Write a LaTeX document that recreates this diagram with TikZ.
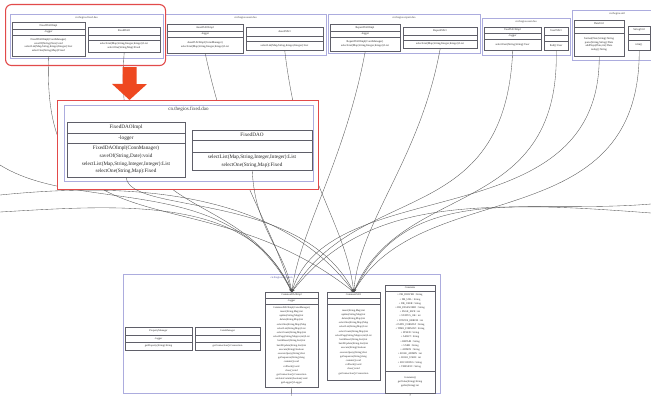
\documentclass[tikz,border=0pt]{standalone}
\usepackage{fontspec}
\setmainfont{Liberation Serif}
\usetikzlibrary{arrows.meta}
\definecolor{pkgcol}{RGB}{172,172,222}
\definecolor{clscol}{RGB}{95,95,105}
\definecolor{hlred}{RGB}{226,74,74}
\definecolor{arrred}{RGB}{238,72,32}
\definecolor{edgecol}{RGB}{85,85,85}
\definecolor{titlecol}{RGB}{90,90,165}
\tikzset{
  pkgbox/.style={draw=pkgcol, fill=white, line width=0.6pt, inner sep=0pt, anchor=north west},
  clsbox/.style={draw=clscol, fill=white, line width=0.45pt, inner sep=0pt, anchor=north west},
  clsline/.style={draw=clscol, line width=0.45pt},
  ctext/.style={inner sep=0pt, align=center, text=black!85, cfont},
  ptext/.style={inner sep=0pt, align=center, text=black!75, pfont},
  cfont/.style={font=\fontsize{2.8}{3.6}\selectfont},
  pfont/.style={font=\fontsize{2.8}{3.6}\selectfont},
  dep/.style={draw=edgecol, line width=0.35pt, -{Stealth[length=3.2pt,width=2.4pt]}},
  hlbox/.style={draw=hlred, line width=1.1pt, inner sep=0pt, anchor=north west}
}
\newcommand{\upkg}[6]{%
  \node[pkgbox, minimum width={(#3-#2)*1pt}, minimum height={(#5-#4)*1pt}] (#1) at (#2,#4) {};
  \node[ptext] (#1-t) at ({(#2+#3)/2},#4+4) {#6};}
\newcommand{\ucls}[8]{\def\cid{#1}\def\cxa{#2}\def\cxb{#3}\def\cya{#4}\def\cyb{#5}\def\cyc{#6}\def\cyd{#7}\def\cname{#8}\uclsrest}
\newcommand{\uclsrest}[2]{%
  \node[clsbox, minimum width={(\cxb-\cxa)*1pt}, minimum height={(\cyd-\cya)*1pt}] (\cid) at (\cxa,\cya) {};
  \draw[clsline] (\cxa,\cyb) -- (\cxb,\cyb) (\cxa,\cyc) -- (\cxb,\cyc);
  \node[ctext] (\cid-n) at ({(\cxa+\cxb)/2},{(\cya+\cyb)/2}) {\cname};
  \node[ctext] (\cid-a) at ({(\cxa+\cxb)/2},{(\cyb+\cyc)/2}) {#1};
  \node[ctext] (\cid-m) at ({(\cxa+\cxb)/2},{(\cyc+\cyd)/2}) {#2};}
\begin{document}
\begin{tikzpicture}[x=1pt,y=-1pt]
\useasboundingbox[fill=white] (0,0) rectangle (651,396);

% ---------- bottom package ----------
\upkg{bp}{123}{440}{274}{393}{\textcolor{titlecol}{cn.thegios.common}}
\begin{scope}[cfont/.style={font=\fontsize{2.6}{4.2}\selectfont}]
\ucls{c1}{265}{318}{292}{298}{304}{387}{CommonDAOImpl}{-logger}{CommonDAOImpl(ConnManager)\\insert(String,Map):int\\update(String,Map):int\\delete(String,Map):int\\selectOne(String,Map):Map\\selectList(String,Map):List\\selectCount(String,Map):int\\selectPage(String,Map,int,int):List\\batchInsert(String,List):int\\batchUpdate(String,List):int\\execute(String):boolean\\executeQuery(String):List\\getSequence(String):long\\commit():void\\rollback():void\\close():void\\getConnection():Connection\\setAutoCommit(boolean):void\\getLogger():Logger}
\ucls{c2}{327}{380}{292}{298}{304}{380}{CommonDAO}{}{insert(String,Map):int\\update(String,Map):int\\delete(String,Map):int\\selectOne(String,Map):Map\\selectList(String,Map):List\\selectCount(String,Map):int\\selectPage(String,Map,int,int):List\\batchInsert(String,List):int\\batchUpdate(String,List):int\\execute(String):boolean\\executeQuery(String):List\\getSequence(String):long\\commit():void\\rollback():void\\close():void\\getConnection():Connection}
\ucls{c3}{385}{435}{285}{291}{371}{393}{Constants}{+ DB\_DRIVER : String\\+ DB\_URL : String\\+ DB\_USER : String\\+ DB\_PASSWORD : String\\+ PAGE\_SIZE : int\\+ STATUS\_OK : int\\+ STATUS\_ERROR : int\\+ DATE\_FORMAT : String\\+ TIME\_FORMAT : String\\+ FIXED : String\\+ ASSET : String\\+ REPAIR : String\\+ USER : String\\+ ADMIN : String\\+ ROLE\_ADMIN : int\\+ ROLE\_USER : int\\+ ENCODING : String\\+ VERSION : String}{Constants()\\getValue(String):String\\getInt(String):int}
\ucls{q1}{125}{192}{327}{335}{342}{350}{PropertyManager}{-logger}{getProperty(String):String}
\ucls{q2}{195}{260}{327}{335}{342}{350}{ConnManager}{}{getConnection():Connection}
\end{scope}

% ---------- top packages ----------
\upkg{p1}{10}{163}{14}{58}{cn.thegios.fixed.dao}
\ucls{p1A}{12}{85}{22}{29}{35}{56}{FixedDAOImpl}{-logger}{FixedDAOImpl(ConnManager)\\saveOf(String,Date):void\\selectList(Map,String,Integer,Integer):List\\selectOne(String,Map):Fixed}
\ucls{p1B}{88}{160}{27}{35}{40}{52}{FixedDAO}{}{selectList(Map,String,Integer,Integer):List\\selectOne(String,Map):Fixed}

\upkg{p2}{165}{326}{14}{55}{cn.thegios.asset.dao}
\ucls{p2A}{167}{243}{24}{31}{37}{53}{AssetDAOImpl}{-logger}{AssetDAOImpl(ConnManager)\\selectList(Map,String,Integer,Integer):List}
\ucls{p2B}{246}{323}{27}{36}{41}{50}{AssetDAO}{}{selectList(Map,String,Integer,Integer):List}

\upkg{p3}{328}{480}{14}{53}{cn.thegios.repair.dao}
\ucls{p3A}{330}{400}{24}{31}{37}{51}{RepairDAOImpl}{-logger}{RepairDAOImpl(ConnManager)\\selectList(Map,String,Integer,Integer):List}
\ucls{p3B}{403}{477}{27}{35}{40}{48}{RepairDAO}{}{selectList(Map,String,Integer,Integer):List}

\upkg{p4}{482}{570}{18}{55}{cn.thegios.user.dao}
\ucls{p4A}{484}{541}{27}{33}{39}{50}{UserDAOImpl}{-logger}{selectUser(String,String):User}
\ucls{p4B}{544}{568}{27}{35}{41}{50}{UserDAO}{}{find():User}

\upkg{p5}{572}{662}{10}{60}{cn.thegios.util}
\ucls{p5A}{574}{624}{20}{27}{33}{56}{DateUtil}{}{format(Date,String):String\\parse(String,String):Date\\addDays(Date,int):Date\\today():String}
\ucls{p5B}{628}{650}{26}{34}{40}{50}{StringUtil}{}{trim()}

% ---------- free ends ----------
\coordinate (L1) at (0,165);
\coordinate (L2) at (0,195);
\coordinate (L3) at (0,212);
\coordinate (R1) at (651,204);
\coordinate (R2) at (651,213);
\coordinate (B1) at (291.5,396);
\coordinate (B2) at (410,396);

% ---------- connectors ----------
\draw[dep] (p1A.south) .. controls (40,260) and (200,170) .. (c2.north);
\draw[dep] (p1B.south) .. controls (110,230) and (240,180) .. (c1.north);
\draw[dep] (p2A.south) .. controls (230,170) and (270,220) .. (c1.north);
\draw[dep] (p2B.south) .. controls (300,180) and (345,220) .. (c2.north);
\draw[dep] (L1) .. controls (80,215) and (230,170) .. (c1.north);
\draw[dep] (L2) .. controls (100,185) and (270,180) .. (c2.north);
\draw[dep] (L3) .. controls (120,205) and (250,195) .. (c1.north);
\draw[dep] (p3A.south) .. controls (345,160) and (300,230) .. (c1.north);
\draw[dep] (p3B.south) .. controls (420,160) and (360,220) .. (c2.north);
\draw[dep] (p4A.south) .. controls (505,230) and (360,180) .. (c1.north);
\draw[dep] (p4B.south) .. controls (560,220) and (400,180) .. (c2.north);
\draw[dep] (p5A.south) .. controls (600,240) and (330,170) .. (c1.north);
\draw[dep] (p5B.south) .. controls (640,240) and (420,175) .. (c2.north);
\draw[dep] (R1) .. controls (520,215) and (380,180) .. (c1.north);
\draw[dep] (R2) .. controls (480,200) and (400,200) .. (c2.north);
\draw[draw=edgecol, line width=0.35pt] (c1.south) -- (B1);
\draw[draw=edgecol, line width=0.35pt] (c3.south) -- (B2);

% ---------- highlight ----------
\node[hlbox, rounded corners=6pt, minimum width=160pt, minimum height=61pt] (hl1) at (5,4) {};

% ---------- zoomed view ----------
\node[hlbox, fill=white, line width=1pt, minimum width=261pt, minimum height=89pt] (hl2) at (57,100) {};
\begin{scope}[cfont/.style={font=\fontsize{5.2}{7.6}\selectfont}, pfont/.style={font=\fontsize{5}{6}\selectfont}]
\upkg{zp}{64}{313}{105}{181}{cn.thegios.fixed.dao}
\ucls{zA}{67}{185}{122}{133}{143}{177}{FixedDAOImpl}{-logger}{FixedDAOImpl(ConnManager)\\saveOf(String,Date):void\\selectList(Map,String,Integer,Integer):List\\selectOne(String,Map):Fixed}
\ucls{zB}{192}{312}{130}{140}{152}{170}{FixedDAO}{}{selectList(Map,String,Integer,Integer):List\\selectOne(String,Map):Fixed}
\end{scope}
\draw[dep] (zA.south) .. controls (130,215) and (300,190) .. (c2.north);
\draw[dep] (zB.south) .. controls (255,230) and (285,250) .. (c1.north);

% ---------- red arrow ----------
\draw[draw=arrred, line width=14pt, -{Triangle[length=16pt,width=34pt]}] ([xshift=44pt,yshift=-1pt]hl1.south) -- ([xshift=-58.5pt]hl2.north);
\end{tikzpicture}
\end{document}
